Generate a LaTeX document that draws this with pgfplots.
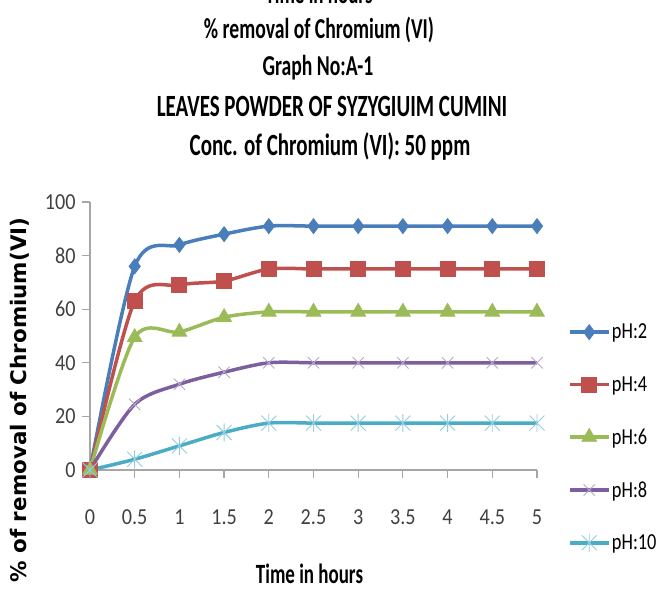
\documentclass[border=0pt]{standalone}
\usepackage{pgfplots}
\pgfplotsset{compat=1.18}
\usepackage{fontspec}
\setmainfont{Carlito}[FakeStretch=0.8]
\newfontfamily\titlefont{Carlito}[FakeStretch=0.68]
\newfontfamily\tickfont{Carlito}[FakeStretch=0.88]
\newfontfamily\ylabfont{DejaVu Sans}

\definecolor{phtwo}{HTML}{4A7EBB}
\definecolor{phfour}{HTML}{C0504D}
\definecolor{phsix}{HTML}{9BBB59}
\definecolor{pheight}{HTML}{7D5FA0}
\definecolor{phten}{HTML}{4BACC6}
\definecolor{axisgray}{HTML}{A6A6A6}
\definecolor{ticktext}{HTML}{404040}

% x with a vertical bar through it
\pgfdeclareplotmark{xbar}{%
  \pgfpathmoveto{\pgfqpoint{-\pgfplotmarksize}{-\pgfplotmarksize}}%
  \pgfpathlineto{\pgfqpoint{\pgfplotmarksize}{\pgfplotmarksize}}%
  \pgfpathmoveto{\pgfqpoint{-\pgfplotmarksize}{\pgfplotmarksize}}%
  \pgfpathlineto{\pgfqpoint{\pgfplotmarksize}{-\pgfplotmarksize}}%
  \pgfpathmoveto{\pgfqpoint{0pt}{-1.2\pgfplotmarksize}}%
  \pgfpathlineto{\pgfqpoint{0pt}{1.2\pgfplotmarksize}}%
  \pgfusepathqstroke}

\begin{document}
\begin{tikzpicture}
\useasboundingbox (0bp,0bp) rectangle (660bp,589bp);

% titles
\begin{scope}[every node/.style={text=black, inner sep=0pt, anchor=center}]
\node[font=\titlefont\bfseries\fontsize{28}{28}\selectfont] at (319bp,595bp) {Time in hours};
\node[font=\titlefont\bfseries\fontsize{29}{29}\selectfont] at (319bp,559bp) {\% removal of Chromium (VI)};
\node[font=\titlefont\bfseries\fontsize{29}{29}\selectfont] at (318bp,521bp) {Graph No:A-1};
\node[font=\titlefont\bfseries\fontsize{31}{31}\selectfont] at (332bp,483bp) {LEAVES POWDER OF SYZYGIUIM CUMINI};
\node[font=\titlefont\bfseries\fontsize{31}{31}\selectfont] at (330bp,443bp) {Conc. of Chromium (VI): 50 ppm};
\end{scope}

\begin{axis}[
  at={(90bp,119bp)}, anchor=south west,
  scale only axis, width=447bp, height=268bp,
  xmin=0, xmax=5, ymin=0, ymax=100,
  axis x line=bottom, axis y line=left,
  axis line style={-, draw=axisgray, line width=1.2bp},
  xtick={0,0.5,...,5}, ytick={0,20,...,100},
  tick align=outside, major tick length=8bp,
  tick style={draw=axisgray, line width=1.2bp},
  /pgf/number format/assume math mode=true,
  /pgf/number format/fixed,
  ticklabel style={font=\tickfont\fontsize{23}{23}\selectfont, text=ticktext},
  xticklabel style={anchor=center, yshift=-39bp},
  yticklabel style={anchor=east, xshift=-3bp},
  xlabel={\titlefont\bfseries Time in hours},
  xlabel style={font=\fontsize{28}{28}\selectfont, at={(0.5,0)}, anchor=center, xshift=-4bp, yshift=-104bp},
  ylabel={\ylabfont\bfseries\% of removal of Chromium(VI)},
  ylabel style={font=\fontsize{21.5}{21.5}\selectfont, rotate=0, at={(-70bp,70bp)}, anchor=center},
  clip=false,
  every axis plot/.append style={line width=3.5bp, smooth, tension=0.5},
  legend style={draw=none, fill=none, at={(1.07,0.553)}, anchor=north west,
    font=\fontsize{23}{23}\selectfont, row sep=32bp, inner sep=0pt,
    cells={anchor=west}},
  legend image code/.code={\draw[mark repeat=2, mark phase=2, #1]
    plot coordinates {(0bp,0bp) (19bp,0bp) (38bp,0bp)};},
]
\addplot[color=phtwo, mark=diamond*, mark size=7.5bp,
  mark options={line width=0.8bp, solid}] coordinates {
  (0,0) (0.5,76) (1,84) (1.5,88) (2,91) (2.5,91) (3,91) (3.5,91) (4,91) (4.5,91) (5,91)};
\addlegendentry{pH:2}
\addplot[color=phfour, mark=square*, mark size=7.5bp,
  mark options={line width=0.8bp, solid}] coordinates {
  (0,0) (0.5,63) (1,69) (1.5,70.5) (2,75) (2.5,75) (3,75) (3.5,75) (4,75) (4.5,75) (5,75)};
\addlegendentry{pH:4}
\addplot[color=phsix, mark=triangle*, mark size=8.5bp,
  mark options={line width=0.8bp, solid}] coordinates {
  (0,0) (0.5,49.5) (1,51.5) (1.5,57) (2,59) (2.5,59) (3,59) (3.5,59) (4,59) (4.5,59) (5,59)};
\addlegendentry{pH:6}
\addplot[color=pheight, mark=x, mark size=8bp,
  mark options={line width=0.9bp, draw=pheight!55, solid}] coordinates {
  (0,0) (0.5,24.5) (1,32) (1.5,36.5) (2,40) (2.5,40) (3,40) (3.5,40) (4,40) (4.5,40) (5,40)};
\addlegendentry{pH:8}
\addplot[color=phten, mark=xbar, mark size=7.5bp,
  mark options={line width=0.9bp, draw=phten!60, solid}] coordinates {
  (0,0) (0.5,4) (1,9) (1.5,14) (2,17.5) (2.5,17.5) (3,17.5) (3.5,17.5) (4,17.5) (4.5,17.5) (5,17.5)};
\addlegendentry{pH:10}
\end{axis}
\end{tikzpicture}
\end{document}
